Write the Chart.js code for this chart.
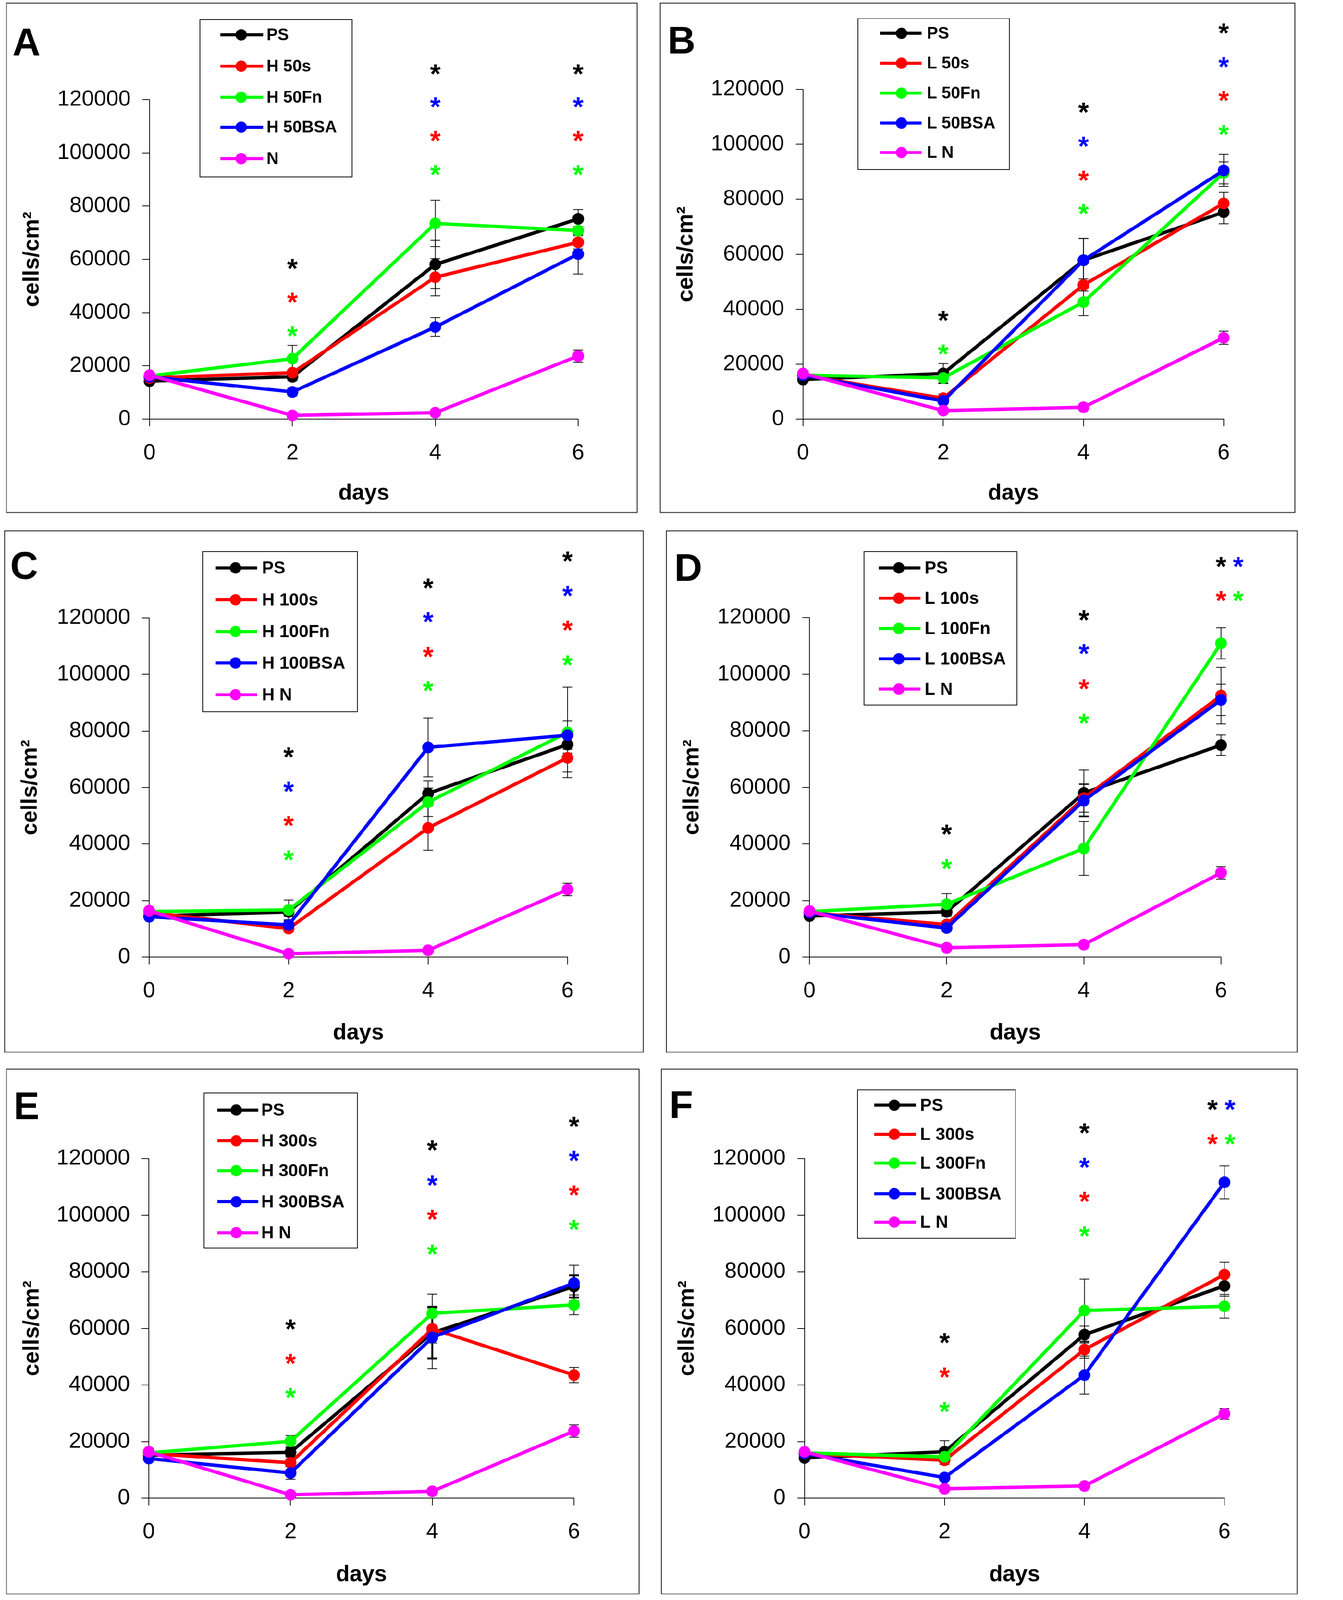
<!DOCTYPE html>
<html>
<head>
<meta charset="utf-8">
<script src="https://cdn.jsdelivr.net/npm/chart.js@4.4.1/dist/chart.umd.min.js"></script>
<style>
  html, body { margin: 0; padding: 0; background: #fff; overflow: hidden; }
  #page { width: 3438px; height: 4226px; position: absolute; left: 0; top: 0; transform-origin: 0 0; background: #fff; }
  .panel { position: absolute; border: 2px solid #000; box-sizing: border-box; background: #fff; }
  .panel canvas { position: absolute; left: 0; top: 0; }
</style>
</head>
<body>
<div id="page"></div>
<script>
const days = [0, 2, 4, 6];
const yTicks = [0, 20000, 40000, 60000, 80000, 100000, 120000];
const seriesColors = ['#000000', '#ff0000', '#00ff00', '#0000ff', '#ff00ff'];

// panel A
const labelsA = ['PS', 'H 50s', 'H 50Fn', 'H 50BSA', 'N'];
const valuesA = [
  [14300, 15900, 58100, 75200],
  [15500, 17400, 53300, 66400],
  [16200, 22700, 73500, 70800],
  [15900, 10200, 34600, 62000],
  [16500, 1400, 2400, 23700]
];
const errorsA = [
  [1000, 1500, 9000, 3500],
  [800, 1200, 7000, 2500],
  [500, 5000, 8700, 1500],
  [600, 1500, 3500, 7500],
  [500, 500, 500, 2300]
];
// [day, value, series]
const starsA = [
  [2, 58900, 0], [2, 46200, 1], [2, 33600, 2],
  [4, 132000, 0], [4, 119600, 3], [4, 106900, 1], [4, 94100, 2],
  [6, 132000, 0], [6, 119600, 3], [6, 106900, 1], [6, 94100, 2]
];

// panel B
const labelsB = ['PS', 'L 50s', 'L 50Fn', 'L 50BSA', 'L N'];
const valuesB = [
  [14400, 16600, 57800, 75300],
  [16000, 7600, 48800, 78500],
  [16000, 15000, 42600, 89600],
  [16000, 6600, 57800, 90500],
  [16600, 3100, 4300, 29600]
];
const errorsB = [
  [1000, 3600, 8000, 4200],
  [800, 1500, 2200, 4000],
  [600, 1800, 5000, 4000],
  [700, 1200, 8000, 5800],
  [500, 1000, 800, 2400]
];
const starsB = [
  [2, 38200, 0], [2, 25900, 2],
  [4, 114000, 0], [4, 101600, 3], [4, 89200, 1], [4, 77000, 2],
  [6, 142800, 0], [6, 130500, 3], [6, 118200, 1], [6, 105800, 2]
];

// panel C
const labelsC = ['PS', 'H 100s', 'H 100Fn', 'H 100BSA', 'H N'];
const valuesC = [
  [14500, 16000, 57900, 75200],
  [15800, 10100, 45700, 70500],
  [16100, 16700, 54800, 79500],
  [14300, 11400, 74200, 78500],
  [16400, 1200, 2400, 23900]
];
const errorsC = [
  [800, 1500, 4500, 3000],
  [800, 1200, 7900, 5000],
  [500, 3500, 5000, 16000],
  [700, 1500, 10400, 5000],
  [500, 500, 500, 2200]
];
const starsC = [
  [2, 73000, 0], [2, 60800, 3], [2, 48700, 1], [2, 36600, 2],
  [4, 132700, 0], [4, 120800, 3], [4, 108500, 1], [4, 96400, 2],
  [6, 142200, 0], [6, 130000, 3], [6, 117800, 1], [6, 105500, 2]
];

// panel D
const labelsD = ['PS', 'L 100s', 'L 100Fn', 'L 100BSA', 'L N'];
const valuesD = [
  [14500, 16000, 58000, 74900],
  [15700, 11500, 56200, 92400],
  [16100, 18700, 38400, 110900],
  [15700, 10300, 55300, 90900],
  [16300, 3300, 4400, 29800]
];
const errorsD = [
  [800, 1500, 8100, 3600],
  [800, 1200, 5000, 10000],
  [500, 3700, 9500, 5500],
  [700, 1200, 5700, 5500],
  [500, 800, 800, 2200]
];
const starsD = [
  [2, 45600, 0], [2, 33500, 2],
  [4, 121400, 0], [4, 109400, 3], [4, 97000, 1], [4, 84800, 2],
  [6, 140200, 0], [6.25, 140200, 3], [6, 128100, 1], [6.25, 128100, 2]
];

// panel E
const labelsE = ['PS', 'H 300s', 'H 300Fn', 'H 300BSA', 'H N'];
const valuesE = [
  [15200, 16200, 58400, 74800],
  [15800, 12500, 59800, 43500],
  [16000, 20100, 65300, 68300],
  [14000, 8900, 56800, 76000],
  [16400, 1200, 2400, 23700]
];
const errorsE = [
  [800, 1500, 9000, 3900],
  [800, 1200, 5000, 2700],
  [500, 2000, 6800, 3500],
  [700, 2200, 11000, 6300],
  [500, 500, 500, 2200]
];
const starsE = [
  [2, 62000, 0], [2, 49800, 1], [2, 37700, 2],
  [4, 125200, 0], [4, 112800, 3], [4, 100700, 1], [4, 88500, 2],
  [6, 133500, 0], [6, 121500, 3], [6, 109300, 1], [6, 97100, 2]
];

// panel F
const labelsF = ['PS', 'L 300s', 'L 300Fn', 'L 300BSA', 'L N'];
const valuesF = [
  [14200, 16400, 57800, 75000],
  [15800, 13400, 52500, 79000],
  [16000, 14600, 66300, 67800],
  [15800, 7300, 43500, 111600],
  [16400, 3300, 4300, 29800]
];
const errorsF = [
  [800, 3900, 3000, 3600],
  [800, 1500, 3000, 4300],
  [500, 1500, 11100, 4200],
  [700, 1200, 6700, 5800],
  [500, 1000, 800, 1900]
];
const starsF = [
  [2, 57100, 0], [2, 45000, 1], [2, 32800, 2],
  [4, 131300, 0], [4, 119100, 3], [4, 107000, 1], [4, 94800, 2],
  [5.83, 139500, 0], [6.08, 139500, 3], [5.83, 127300, 1], [6.08, 127300, 2]
];

// page layout (pixels on the 3438 x 4226 page)
const panels = [
  { letter: 'A', labels: labelsA, values: valuesA, errors: errorsA, stars: starsA,
    box: [16, 7, 1684, 1355], plot: [395, 1527, 1107, 263], letterAt: [33, 72],
    legend: { box: [528, 52, 930, 467], rows: [92, 175, 257, 336, 419], line: [582, 695], marker: 637, text: 704, size: 44 } },
  { letter: 'B', labels: labelsB, values: valuesB, errors: errorsB, stars: starsB,
    box: [1743, 7, 3421, 1355], plot: [2121, 3232, 1107, 236], letterAt: [1763, 67],
    legend: { box: [2266, 49, 2666, 448], rows: [88, 167, 246, 325, 403], line: [2324, 2434], marker: 2381, text: 2448, size: 44 } },
  { letter: 'C', labels: labelsC, values: valuesC, errors: errorsC, stars: starsC,
    box: [11, 1401, 1700, 2780], plot: [394, 1499, 2528, 1632], letterAt: [27, 1455],
    legend: { box: [535, 1457, 944, 1880], rows: [1500, 1584, 1668, 1751, 1835], line: [570, 679], marker: 622, text: 692, size: 46 } },
  { letter: 'D', labels: labelsD, values: valuesD, errors: errorsD, stars: starsD,
    box: [1759, 1401, 3427, 2780], plot: [2138, 3225, 2528, 1631], letterAt: [1781, 1460],
    legend: { box: [2282, 1457, 2686, 1862], rows: [1500, 1580, 1660, 1740, 1820], line: [2321, 2431], marker: 2374, text: 2442, size: 46 } },
  { letter: 'E', labels: labelsE, values: valuesE, errors: errorsE, stars: starsE,
    box: [16, 2823, 1689, 4211], plot: [393, 1516, 3957, 3060], letterAt: [36, 2882], thickErr: 0,
    legend: { box: [539, 2887, 944, 3296], rows: [2932, 3013, 3092, 3174, 3256], line: [574, 682], marker: 624, text: 690, size: 46 } },
  { letter: 'F', labels: labelsF, values: valuesF, errors: errorsF, stars: starsF,
    box: [1746, 2823, 3427, 4211], plot: [2125, 3234, 3957, 3060], letterAt: [1768, 2879],
    legend: { box: [2265, 2879, 2682, 3271], rows: [2919, 2996, 3072, 3153, 3228], line: [2309, 2419], marker: 2362, text: 2430, size: 46 } }
];

const ARIAL = '"Liberation Sans", Arial, Helvetica, sans-serif';
const tickFont = { family: ARIAL, size: 58 };
const BORDER = 2;
const page = document.getElementById('page');

// fit the page into the window if the viewport is smaller than the page
const fit = Math.min(1, window.innerWidth / 3438, window.innerHeight / 4226);
if (fit < 1) page.style.transform = 'scale(' + fit + ')';

function makePanel(p) {
  const [bl, bt, br, bb] = p.box;
  const cx = bl + BORDER, cy = bt + BORDER;
  const cw = br - bl - 2 * BORDER, ch = bb - bt - 2 * BORDER;
  const [x0, x6, y0, y120] = p.plot;

  const div = document.createElement('div');
  div.className = 'panel';
  div.style.left = bl + 'px';
  div.style.top = bt + 'px';
  div.style.width = (br - bl) + 'px';
  div.style.height = (bb - bt) + 'px';
  const canvas = document.createElement('canvas');
  canvas.width = cw;
  canvas.height = ch;
  canvas.style.width = cw + 'px';
  canvas.style.height = ch + 'px';
  div.appendChild(canvas);
  page.appendChild(div);

  const datasets = p.labels.map((label, i) => ({
    label: label,
    data: days.map((d, j) => ({ x: d, y: p.values[i][j] })),
    borderColor: seriesColors[i],
    backgroundColor: seriesColors[i],
    pointBackgroundColor: seriesColors[i],
    pointBorderColor: seriesColors[i],
    borderWidth: 9,
    pointRadius: 15.5,
    pointBorderWidth: 0,
    tension: 0,
    order: p.labels.length - i,
    clip: false
  }));

  // error bars, behind the lines
  const errorBars = {
    id: 'errorBars',
    beforeDatasetsDraw(chart) {
      const ctx = chart.ctx, xs = chart.scales.x, ys = chart.scales.y;
      ctx.save();
      ctx.strokeStyle = '#000';
      p.errors.forEach((row, i) => {
        ctx.lineWidth = p.thickErr === i ? 5 : 2;
        row.forEach((e, j) => {
          if (!e) return;
          const v = p.values[i][j];
          const x = xs.getPixelForValue(days[j]);
          const yt = ys.getPixelForValue(v + e);
          const yb = ys.getPixelForValue(Math.max(v - e, 0));
          ctx.beginPath();
          ctx.moveTo(x, yt); ctx.lineTo(x, yb);
          ctx.moveTo(x - 13, yt); ctx.lineTo(x + 13, yt);
          ctx.moveTo(x - 13, yb); ctx.lineTo(x + 13, yb);
          ctx.stroke();
        });
      });
      ctx.restore();
    }
  };

  // significance stars, legend box and panel letter
  const extras = {
    id: 'extras',
    afterDraw(chart) {
      const ctx = chart.ctx, xs = chart.scales.x, ys = chart.scales.y;
      ctx.save();
      const starSize = 72;
      ctx.font = 'bold ' + starSize + 'px ' + ARIAL;
      ctx.textAlign = 'center';
      ctx.textBaseline = 'alphabetic';
      p.stars.forEach(([d, v, s]) => {
        ctx.fillStyle = seriesColors[s];
        ctx.fillText('*', xs.getPixelForValue(d), ys.getPixelForValue(v) + 0.57 * starSize);
      });

      const L = p.legend;
      ctx.strokeStyle = '#000';
      ctx.lineWidth = 2;
      ctx.strokeRect(L.box[0] - cx, L.box[1] - cy, L.box[2] - L.box[0], L.box[3] - L.box[1]);
      ctx.font = 'bold ' + L.size + 'px ' + ARIAL;
      ctx.textAlign = 'left';
      ctx.textBaseline = 'middle';
      p.labels.forEach((label, i) => {
        const y = L.rows[i] - cy;
        ctx.strokeStyle = seriesColors[i];
        ctx.lineWidth = 8;
        ctx.beginPath();
        ctx.moveTo(L.line[0] - cx, y);
        ctx.lineTo(L.line[1] - cx, y);
        ctx.stroke();
        ctx.fillStyle = seriesColors[i];
        ctx.beginPath();
        ctx.arc(L.marker - cx, y, 15, 0, Math.PI * 2);
        ctx.fill();
        ctx.fillStyle = '#000';
        ctx.fillText(label, L.text - cx, y + 2);
      });

      ctx.font = 'bold 102px ' + ARIAL;
      ctx.textBaseline = 'alphabetic';
      ctx.fillStyle = '#000';
      ctx.fillText(p.letter, p.letterAt[0] - cx, p.letterAt[1] - cy + 74);
      ctx.restore();
    }
  };

  const axisGrid = { drawOnChartArea: false, drawTicks: true, tickLength: 19, color: '#000', lineWidth: 2 };
  const axisBorder = { display: true, color: '#000', width: 2 };

  new Chart(canvas.getContext('2d'), {
    type: 'line',
    data: { datasets: datasets },
    options: {
      responsive: false,
      maintainAspectRatio: false,
      animation: false,
      devicePixelRatio: Math.max(1, window.devicePixelRatio || 1),
      events: [],
      layout: { padding: { left: 0, top: y120 - cy, right: cw - (x6 - cx), bottom: 0 } },
      plugins: { legend: { display: false }, tooltip: { enabled: false } },
      scales: {
        x: {
          type: 'linear', min: 0, max: 6,
          afterBuildTicks: (s) => { s.ticks = days.map(v => ({ value: v })); },
          afterFit: (s) => { s.height = ch - (y0 - cy); },
          grid: axisGrid, border: axisBorder,
          ticks: { font: tickFont, color: '#000', padding: 36, maxRotation: 0, autoSkip: false, callback: (v) => String(v) },
          title: { display: true, text: 'days', color: '#000', font: { family: ARIAL, size: 59, weight: 'bold' }, padding: { top: 0, bottom: 14 } }
        },
        y: {
          type: 'linear', min: 0, max: 120000,
          afterBuildTicks: (s) => { s.ticks = yTicks.map(v => ({ value: v })); },
          afterFit: (s) => { s.width = x0 - cx; },
          grid: axisGrid, border: axisBorder,
          ticks: { font: tickFont, color: '#000', padding: 31, autoSkip: false, callback: (v) => String(v) },
          title: { display: true, text: 'cells/cm²', color: '#000', font: { family: ARIAL, size: 59, weight: 'bold' }, padding: { top: 32, bottom: 0 } }
        }
      }
    },
    plugins: [errorBars, extras]
  });
}

panels.forEach(makePanel);
</script>
</body>
</html>
